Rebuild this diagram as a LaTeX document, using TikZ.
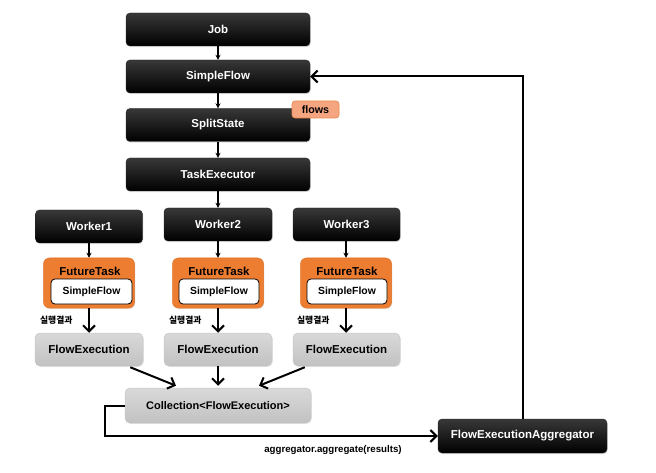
\documentclass[tikz,border=0pt]{standalone}
\usepackage{fontspec}
\setmainfont{Liberation Sans}
\newfontfamily\kr{Noto Sans CJK KR}
\usetikzlibrary{arrows.meta,calc,shadows}
\definecolor{orng}{HTML}{ED7D31}
\definecolor{orngdk}{HTML}{E06F22}
\definecolor{tagfill}{HTML}{F5A57F}
\definecolor{tagdraw}{HTML}{E9864F}
\begin{document}
\begin{tikzpicture}[x=1pt,y=-1pt,
  blk/.style={rounded corners=4pt,top color=black!78,middle color=black,bottom color=black,
    draw=black!85,line width=0.4pt,text=white,font=\fontsize{11.5}{13}\selectfont\bfseries,
    inner sep=0pt,minimum height=33pt,
    drop shadow={opacity=0.25,shadow xshift=0.8pt,shadow yshift=-1.2pt}},
  fut/.style={rounded corners=6pt,fill=orng,draw=orngdk,line width=0.5pt,inner sep=0pt,
    minimum width=91pt,minimum height=50pt,
    drop shadow={opacity=0.2,shadow xshift=0.8pt,shadow yshift=-1.2pt}},
  inr/.style={rounded corners=4pt,fill=white,draw=black,line width=0.8pt,inner sep=0pt,
    minimum width=80pt,minimum height=25pt,font=\fontsize{10.4}{12}\selectfont\bfseries},
  gry/.style={rounded corners=5pt,top color=black!15,bottom color=black!24,draw=black!22,
    line width=0.5pt,inner sep=0pt,minimum height=33pt,font=\fontsize{11.5}{13}\selectfont\bfseries,
    drop shadow={opacity=0.15,shadow xshift=0.8pt,shadow yshift=-1.2pt}},
  thin/.style={line width=1.3pt,-{Stealth[length=5pt,width=5pt]}},
  thick/.style={line width=2pt,-{Straight Barb[length=6pt,width=12pt,line width=2pt]}},
  kor/.style={font=\kr\bfseries\fontsize{8.8}{10}\selectfont,anchor=east}
]
\useasboundingbox (0,0) rectangle (656,473);

% top chain
\node[blk,minimum width=184pt] (job) at (218,29.5) {Job};
\node[blk,minimum width=184pt] (sf) at (218,76.5) {SimpleFlow};
\node[blk,minimum width=184pt] (split) at (218,125) {SplitState};
\node[blk,minimum width=184pt] (te) at (218,174.5) {TaskExecutor};
\node[rounded corners=3pt,fill=tagfill,draw=tagdraw,line width=0.6pt,inner sep=0pt,
  minimum width=47pt,minimum height=17pt,font=\fontsize{10.7}{12}\selectfont\bfseries]
  (flows) at (315.5,109.5) {flows};

% workers
\node[blk,minimum width=107pt] (w1) at (89,226.5) {Worker1};
\node[blk,minimum width=108pt] (w2) at (218,224.5) {Worker2};
\node[blk,minimum width=107pt] (w3) at (346.5,224.5) {Worker3};

% future tasks
\node[fut] (ft1) at (89,283) {};
\node[fut] (ft2) at (218,283) {};
\node[fut] (ft3) at (346,283) {};
\foreach \i in {1,2,3}{
  \node[font=\fontsize{11.5}{13}\selectfont\bfseries,inner sep=0pt] (ftl\i) at ($(ft\i.center)+(1,-12)$) {FutureTask};
}
\node[inr,minimum width=81pt] (in1) at (91.5,291.5) {SimpleFlow};
\node[inr] (in2) at (219,291.5) {SimpleFlow};
\node[inr] (in3) at (347,291.5) {SimpleFlow};

% flow executions
\node[gry,minimum width=108pt] (fe1) at (89,349.5) {FlowExecution};
\node[gry,minimum width=108pt] (fe2) at (218,349.5) {FlowExecution};
\node[gry,minimum width=107pt] (fe3) at (346.5,349.5) {FlowExecution};

% collection and aggregator
\node[gry,minimum width=186pt,minimum height=35pt,font=\fontsize{11}{13}\selectfont\bfseries] (coll) at (218,405.5) {Collection<FlowExecution>};
\node[blk,minimum width=169pt,minimum height=34pt] (agg) at (522.5,436) {FlowExecutionAggregator};

% thin arrows
\draw[thin] (job) -- (sf);
\draw[thin] (sf) -- (split);
\draw[thin] (split) -- (te);
\draw[thin] (te) -- (w2);
\draw[thin] (w1) -- (ft1);
\draw[thin] (w2) -- (ft2);
\draw[thin] (w3.south -| ft3.north) -- (ft3.north);

% result arrows
\draw[thick] (ft1.south) -- (ft1.south |- fe1.north);
\draw[thick] (ft2.south) -- (ft2.south |- fe2.north);
\draw[thick] (ft3.south) -- (ft3.south |- fe3.north);
\node[kor] (k1) at ($(ft1.south)+(-13,12)$) {실행결과};
\node[kor] (k2) at ($(ft2.south)+(-13,12)$) {실행결과};
\node[kor] (k3) at ($(ft3.south)+(-13,12)$) {실행결과};

% to collection
\draw[thick] ($(fe1.south east)+(-13,1)$) -- ($(coll.north)+(-42,-2)$);
\draw[thick] (fe2.south) -- ($(coll.north)+(0,-2)$);
\draw[thick] ($(fe3.south west)+(12,1)$) -- ($(coll.north)+(41,-2)$);

% to aggregator
\draw[thick] (coll.west) -- ++(-20,0) coordinate (cbend) |- (agg.west);
\node[font=\fontsize{9.7}{11}\selectfont\bfseries,inner sep=0pt] (lbl) at (333,450) {aggregator.aggregate(results)};

% back to simpleflow
\draw[thick] (agg.north) |- (sf.east);
\end{tikzpicture}
\end{document}
